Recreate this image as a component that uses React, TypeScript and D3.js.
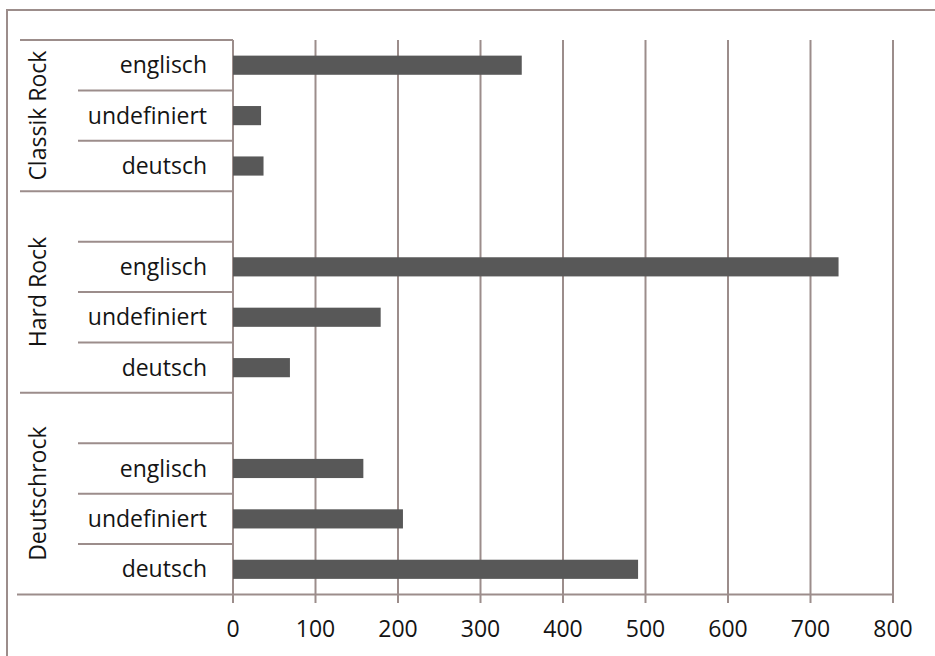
import React from 'react';
import * as d3 from 'd3';

const groups = ['Classik Rock', 'Hard Rock', 'Deutschrock'];
const languages = ['englisch', 'undefiniert', 'deutsch'];
const classikRock = [350, 34, 37];
const hardRock = [734, 179, 69];
const deutschrock = [158, 206, 491];
const ticks = [0, 100, 200, 300, 400, 500, 600, 700, 800];

const W = 935;
const H = 656;
const lineColor = '#9c8d8b';
const font = '"Open Sans", sans-serif';

// rows top to bottom; first group has no empty row on top
const seriesByGroup = [classikRock, hardRock, deutschrock];
const rows = [];
groups.forEach((g, gi) => {
  if (gi > 0) rows.push({ key: g + '|blank', group: g, lang: '', value: null, first: true });
  languages.forEach((l, li) => {
    rows.push({ key: g + '|' + l, group: g, lang: l, value: seriesByGroup[gi][li], first: gi === 0 && li === 0 });
  });
});

const App = () => {
  const x = d3.scaleLinear().domain([0, 800]).range([233, 893]);
  const y = d3.scaleBand().domain(rows.map(r => r.key)).range([40, 594.5])
    .paddingInner(0.62).paddingOuter(0.31);
  const step = y.step();
  const cellTop = key => y(key) - (step - y.bandwidth()) / 2;

  const groupSpans = groups.map(g => {
    const rs = rows.filter(r => r.group === g);
    const top = cellTop(rs[0].key);
    const bottom = cellTop(rs[rs.length - 1].key) + step;
    return { g, top, bottom };
  });

  return (
    <svg width={W} height={H} style={{ position: 'absolute', left: 0, top: 0, background: '#fff' }}>
      <rect x={7} y={10} width={W + 20} height={H + 20} fill="#fff" stroke={lineColor} strokeWidth={2} />

      {/* vertical grid */}
      {ticks.map(t => (
        <line key={'g' + t} x1={x(t)} x2={x(t)} y1={40} y2={603} stroke={lineColor} strokeWidth={2} />
      ))}

      {/* bars */}
      {rows.filter(r => r.value !== null).map(r => (
        <rect key={'b' + r.key} x={x(0)} y={y(r.key)} width={x(r.value) - x(0)} height={y.bandwidth()} fill="#585858" />
      ))}

      {/* category separators */}
      {rows.map((r, i) => {
        const top = cellTop(r.key);
        const isGroupTop = r.first || (i > 0 && rows[i - 1].group !== r.group);
        return (
          <line key={'s' + r.key} x1={isGroupTop ? 20 : 78} x2={x(0)} y1={top} y2={top} stroke={lineColor} strokeWidth={2} />
        );
      })}
      <line x1={17} x2={x(800)} y1={594.5} y2={594.5} stroke={lineColor} strokeWidth={2} />

      {/* sub labels */}
      {rows.filter(r => r.lang).map(r => (
        <text key={'l' + r.key} x={207} y={y(r.key) + y.bandwidth() / 2} dy="0.35em" textAnchor="end"
          fontFamily={font} fontSize={23} fill="#141414">{r.lang}</text>
      ))}

      {/* group labels */}
      {groupSpans.map(s => (
        <text key={'G' + s.g} transform={`translate(38,${(s.top + s.bottom) / 2}) rotate(-90)`} dy="0.35em"
          textAnchor="middle" fontFamily={font} fontSize={23} fill="#141414">{s.g}</text>
      ))}

      {/* tick labels */}
      {ticks.map(t => (
        <text key={'t' + t} x={x(t)} y={629} dy="0.35em" textAnchor="middle" fontFamily={font} fontSize={23} fill="#141414">{t}</text>
      ))}
    </svg>
  );
};

export default App;
